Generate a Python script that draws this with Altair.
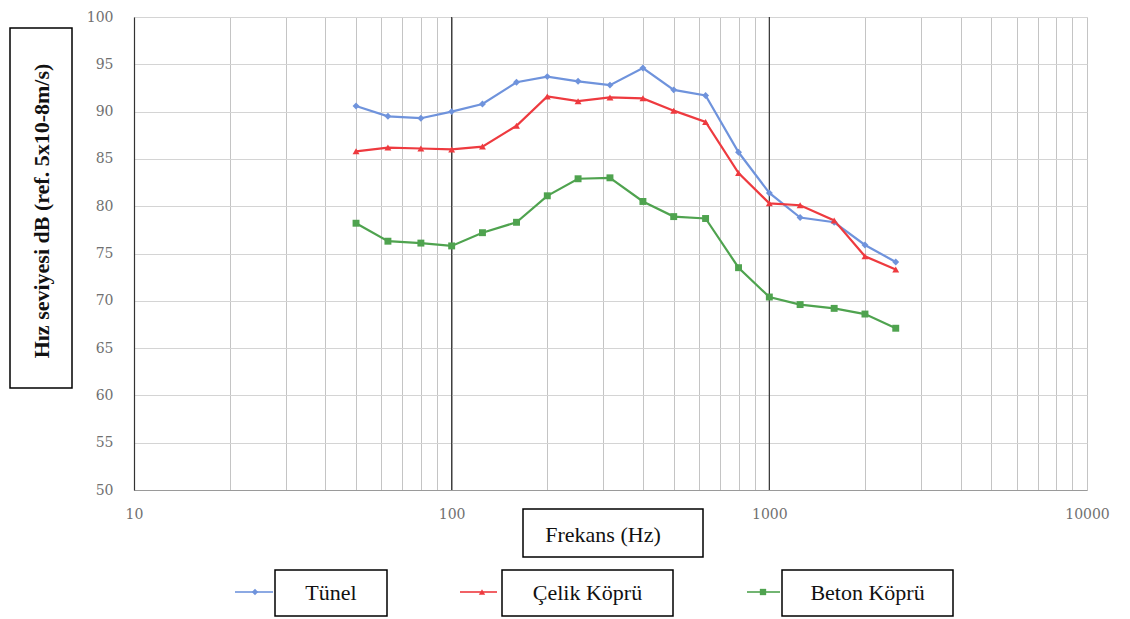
import altair as alt
import pandas as pd

freq = [50, 63, 80, 100, 125, 160, 200, 250, 315, 400, 500, 630, 800, 1000, 1250, 1600, 2000, 2500]
tunel = [90.6, 89.5, 89.3, 90.0, 90.8, 93.1, 93.7, 93.2, 92.8, 94.6, 92.3, 91.7, 85.7, 81.4, 78.8, 78.3, 75.9, 74.1]
celik = [85.8, 86.2, 86.1, 86.0, 86.3, 88.5, 91.6, 91.1, 91.5, 91.4, 90.1, 88.9, 83.5, 80.3, 80.1, 78.5, 74.7, 73.3]
beton = [78.2, 76.3, 76.1, 75.8, 77.2, 78.3, 81.1, 82.9, 83.0, 80.5, 78.9, 78.7, 73.5, 70.4, 69.6, 69.2, 68.6, 67.1]

series = ["Tünel", "Çelik Köprü", "Beton Köprü"]
colors = ["#6f93dc", "#ee3a3f", "#4fa34f"]
shapes = ["diamond", "triangle-up", "square"]
decades = [100, 1000]
x_ticks = [m * 10 ** e for e in range(1, 4) for m in range(1, 10)] + [10000]
y_ticks = list(range(50, 101, 5))

y_title = "Hız seviyesi  dB (ref. 5x10-8m/s)"
x_title = "Frekans (Hz)"

rows = []
for name, vals in zip(series, [tunel, celik, beton]):
    for f, v in zip(freq, vals):
        rows.append({"freq": f, "level": v, "series": name})
df = pd.DataFrame(rows)

FONT = "Liberation Serif"
TICKFONT = "DejaVu Serif"
W, H = 953, 473

x_scale = alt.Scale(type="log", domain=[10, 10000])
y_scale = alt.Scale(domain=[50, 100], nice=False, zero=False)
color_scale = alt.Scale(domain=series, range=colors)
shape_scale = alt.Scale(domain=series, range=shapes)

x_enc = alt.X("freq:Q", scale=x_scale, title=None,
              axis=alt.Axis(values=x_ticks, format="d",
                            labelExpr="indexof([10,100,1000,10000], datum.value) >= 0 ? datum.label : ''",
                            grid=True, gridColor="#c4c4c4", gridWidth=1,
                            ticks=False, labelPadding=17, labelFont=TICKFONT,
                            labelFontSize=14, labelColor="#707070",
                            domainColor="#9a9a9a", labelFlush=False))
y_enc = alt.Y("level:Q", scale=y_scale, title=None,
              axis=alt.Axis(values=y_ticks, grid=True, gridColor="#d4d4d4",
                            ticks=False, labelPadding=21, labelFont=TICKFONT,
                            labelFontSize=14, labelColor="#707070",
                            domainColor="#333333", domainWidth=1.2))

base = alt.Chart(df)
lines = base.mark_line(strokeWidth=2.2).encode(
    x=x_enc, y=y_enc,
    color=alt.Color("series:N", scale=color_scale, legend=None),
)
points = base.mark_point(filled=True, size=48, opacity=1).encode(
    x="freq:Q", y="level:Q",
    color=alt.Color("series:N", scale=color_scale, legend=None),
    shape=alt.Shape("series:N", scale=shape_scale, legend=None),
)

dec_rules = alt.Chart(pd.DataFrame({"f": decades})).mark_rule(color="#333333", strokeWidth=1.2).encode(
    x=alt.X("f:Q", scale=x_scale)
)

one = pd.DataFrame({"a": [0]})


def box(x1, x2, y1, y2):
    return alt.Chart(one).mark_rect(fill="white", stroke="black", strokeWidth=1.5).encode(
        x=alt.value(x1), x2=alt.value(x2), y=alt.value(y1), y2=alt.value(y2))


def label(txt, x, y, size=22, angle=0, bold=False):
    return alt.Chart(one).mark_text(font=FONT, fontSize=size, angle=angle,
                                    fontWeight="bold" if bold else "normal",
                                    align="center", baseline="middle", color="#111111").encode(
        x=alt.value(x), y=alt.value(y), text=alt.value(txt))


deco = [
    box(-124, -62, 11, 371),
    label(y_title, -92, 194, size=22, angle=270, bold=True),
    box(389, 569, 492, 540),
    label(x_title, 469, 518, size=22),
]

leg_line = [(101, 139, 121), (326, 363, 348), (613, 646, 629)]
leg_box = [(141, 253), (368, 539), (648, 819)]
LY = 575
for i, name in enumerate(series):
    lx1, lx2, mx = leg_line[i]
    bx1, bx2 = leg_box[i]
    deco.append(alt.Chart(one).mark_rule(color=colors[i], strokeWidth=2, opacity=0.8).encode(
        x=alt.value(lx1), x2=alt.value(lx2), y=alt.value(LY)))
    deco.append(alt.Chart(one).mark_point(filled=True, size=40, opacity=1).encode(
        x=alt.value(mx), y=alt.value(LY), color=alt.value(colors[i]), shape=alt.value(shapes[i])))
    deco.append(box(bx1, bx2, LY - 22, LY + 24))
    deco.append(label(name, (bx1 + bx2) / 2, LY + 1, size=22))

chart = alt.layer(dec_rules, lines, points, *deco).properties(
    width=W, height=H,
    autosize=alt.AutoSizeParams(type="none"),
    padding={"left": 134, "top": 17, "right": 43, "bottom": 129},
).configure_view(stroke="#9a9a9a", strokeWidth=1).configure(background="white")

chart.save("out.html", embed_options={"renderer": "svg", "actions": False})
